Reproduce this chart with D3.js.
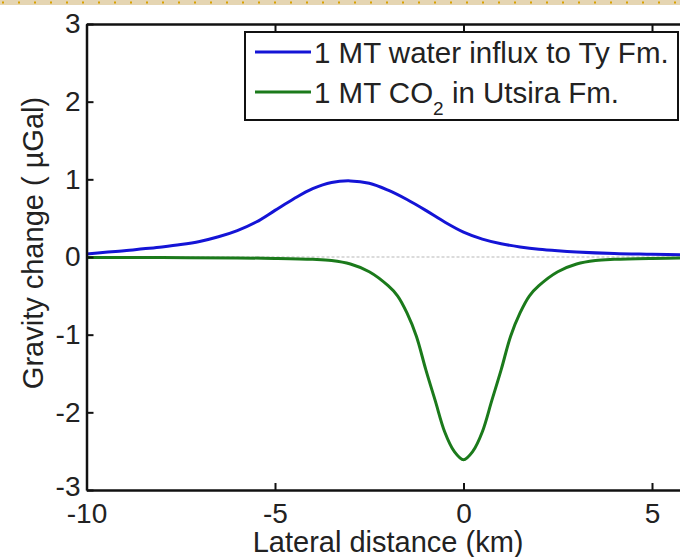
<!DOCTYPE html>
<html>
<head>
<meta charset="utf-8">
<script src="https://cdn.jsdelivr.net/npm/d3@7"></script>
<style>
  body { margin: 0; background: #fff; }
  svg { display: block; font-family: "Liberation Sans", Arial, sans-serif; }
</style>
</head>
<body>
<div id="chart"></div>
<script>
// lateral distance (km) samples
var xWater = [-10, -9.5, -9, -8.5, -8, -7.5, -7, -6.5, -6, -5.5, -5, -4.5, -4, -3.5, -3,
              -2.5, -2, -1.5, -1, -0.5, 0, 0.5, 1, 1.5, 2, 2.5, 3, 4, 5, 6]
var gWater = [0.04, 0.06, 0.08, 0.105, 0.13, 0.16, 0.2, 0.26, 0.34, 0.45, 0.6, 0.75, 0.88, 0.96, 0.98,
              0.95, 0.86, 0.74, 0.6, 0.45, 0.32, 0.23, 0.17, 0.13, 0.1, 0.08, 0.065, 0.045, 0.035, 0.025]

var xCO2 = [-10, -8, -6, -5, -4, -3.5, -3, -2.5, -2, -1.75, -1.5, -1.25, -1, -0.75, -0.5, -0.25, 0,
            0.25, 0.5, 0.75, 1, 1.25, 1.5, 1.75, 2, 2.5, 3, 3.5, 4, 5, 6]
var gCO2 = [-0.005, -0.008, -0.012, -0.018, -0.03, -0.045, -0.09, -0.19, -0.37, -0.5, -0.72, -1.02, -1.45, -1.85, -2.25, -2.5, -2.61,
            -2.5, -2.25, -1.85, -1.45, -1.02, -0.72, -0.5, -0.37, -0.19, -0.09, -0.045, -0.03, -0.018, -0.012]

var xTicks = [-10, -5, 0, 5]
var yTicks = [-3, -2, -1, 0, 1, 2, 3]
var seriesNames = ["1 MT water influx to Ty Fm.", "1 MT CO2 in Utsira Fm."]
var seriesColors = ["#1414d6", "#1b7a1b"]

var W = 680, H = 557
var svg = d3.select("#chart").append("svg").attr("width", W).attr("height", H)

svg.append("rect").attr("width", W).attr("height", H).attr("fill", "#fff")

// beige strip with dots across the top of the page
svg.append("rect").attr("x", 0).attr("y", 0).attr("width", W).attr("height", 5).attr("fill", "#e5d5b2")
svg.selectAll("rect.dot").data(d3.range(0, 43)).enter().append("rect")
    .attr("class", "dot")
    .attr("x", function(d) { return 2 + d * 16 })
    .attr("y", 1.5).attr("width", 2).attr("height", 2)
    .attr("fill", "#d9a100")

var x = d3.scaleLinear().domain([-10, 6]).range([86.5, 689.7])
var y = d3.scaleLinear().domain([-3, 3]).range([490, 24])

// zero reference line
svg.append("line")
    .attr("x1", x(-10)).attr("x2", x(6))
    .attr("y1", y(0)).attr("y2", y(0))
    .attr("stroke", "#cfcfcf").attr("stroke-width", 1.5)
    .attr("stroke-dasharray", "3,2")

var line = d3.line()
    .x(function(d) { return x(d[0]) })
    .y(function(d) { return y(d[1]) })
    .curve(d3.curveCatmullRom.alpha(0.5))

var waterPts = xWater.map(function(v, i) { return [v, gWater[i]] })
var co2Pts = xCO2.map(function(v, i) { return [v, gCO2[i]] })

svg.append("path").attr("d", line(waterPts))
    .attr("fill", "none").attr("stroke", seriesColors[0]).attr("stroke-width", 3)
svg.append("path").attr("d", line(co2Pts))
    .attr("fill", "none").attr("stroke", seriesColors[1]).attr("stroke-width", 3)

// axes, ticks pointing inward as in matlab
var plain = function(d) { return String(d) }
function styleAxis(g) {
  g.selectAll(".domain").attr("stroke", "#111").attr("stroke-width", 2.5)
  g.selectAll(".tick line").attr("stroke", "#111").attr("stroke-width", 2)
  g.selectAll("text").attr("fill", "#222").style("font-size", "28px")
}

svg.append("g").attr("transform", "translate(0," + y(-3) + ")")
    .call(d3.axisBottom(x).tickValues(xTicks).tickFormat(plain).tickSizeInner(-7).tickSizeOuter(0).tickPadding(13))
    .call(styleAxis)

svg.append("g").attr("transform", "translate(0," + y(3) + ")")
    .call(d3.axisTop(x).tickValues(xTicks).tickSizeInner(-7).tickSizeOuter(0).tickFormat(""))
    .call(styleAxis)

var yAx = svg.append("g").attr("transform", "translate(" + x(-10) + ",0)")
    .call(d3.axisLeft(y).tickValues(yTicks).tickFormat(plain).tickSizeInner(-7).tickSizeOuter(0).tickPadding(6))
    .call(styleAxis)
// lowest label sits a little high so it clears "-10"
yAx.selectAll(".tick text").filter(function(d) { return d === -3 }).attr("y", -3)

svg.append("g").attr("transform", "translate(" + x(6) + ",0)")
    .call(d3.axisRight(y).tickValues(yTicks).tickSizeInner(-7).tickSizeOuter(0).tickFormat(""))
    .call(styleAxis)

// axis titles
svg.append("text")
    .attr("x", (x(-10) + x(6)) / 2).attr("y", 552)
    .attr("text-anchor", "middle")
    .attr("fill", "#222")
    .style("font-size", "29px")
    .text("Lateral distance (km)")

svg.append("text")
    .attr("transform", "translate(43," + ((y(-3) + y(3)) / 2 - 14) + ") rotate(-90)")
    .attr("text-anchor", "middle")
    .attr("fill", "#222")
    .style("font-size", "29px")
    .text("Gravity change ( \u00b5Gal)")

// legend
var leg = svg.append("g")
leg.append("rect")
    .attr("x", 245).attr("y", 32).attr("width", 433).attr("height", 88)
    .attr("fill", "#fff").attr("stroke", "#111").attr("stroke-width", 2)

var rows = [52, 92]
rows.forEach(function(ry, i) {
  leg.append("line")
      .attr("x1", 255).attr("x2", 311).attr("y1", ry).attr("y2", ry)
      .attr("stroke", seriesColors[i]).attr("stroke-width", 3)
})

leg.append("text").attr("x", 314).attr("y", rows[0] + 11)
    .attr("fill", "#222").style("font-size", "29.5px")
    .text(seriesNames[0])

var t2 = leg.append("text").attr("x", 314).attr("y", rows[1] + 11)
    .attr("fill", "#222").style("font-size", "29.5px")
t2.append("tspan").text("1 MT CO")
t2.append("tspan").attr("dy", 12).style("font-size", "19px").text("2")
t2.append("tspan").attr("dy", -12).text(" in Utsira Fm.")
</script>
</body>
</html>
